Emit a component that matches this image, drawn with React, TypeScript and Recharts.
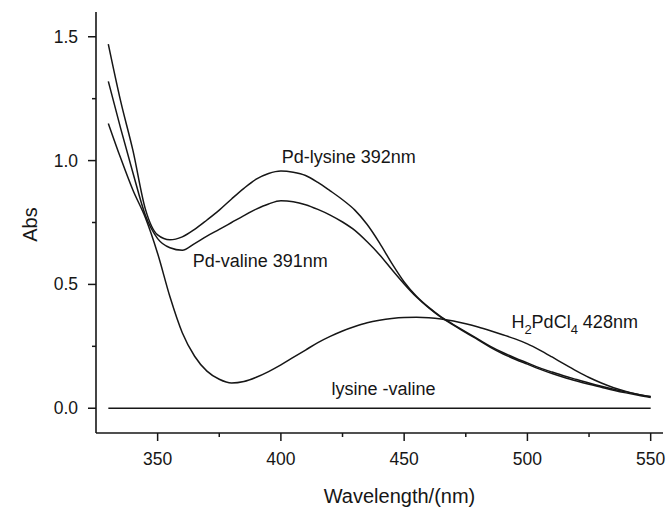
import { LineChart, Line, XAxis, YAxis, ReferenceDot } from 'recharts';

const wavelengths = [
  330, 335, 340, 345, 350, 355, 360, 365, 370, 375, 380, 385, 390, 395, 400,
  405, 410, 415, 420, 425, 430, 435, 440, 445, 450, 455, 460, 465, 470, 475,
  480, 485, 490, 495, 500, 505, 510, 515, 520, 525, 530, 535, 540, 545, 550,
];

const pdLysine = [
  1.47, 1.24, 1.04, 0.805, 0.7, 0.68, 0.692, 0.722, 0.76, 0.8, 0.845, 0.888, 0.925, 0.948, 0.958,
  0.953, 0.94, 0.912, 0.878, 0.842, 0.8, 0.742, 0.668, 0.585, 0.51, 0.452, 0.407, 0.369, 0.338, 0.308,
  0.279, 0.25, 0.225, 0.203, 0.183, 0.163, 0.146, 0.13, 0.116, 0.102, 0.089, 0.077, 0.066, 0.056, 0.047,
];

const pdValine = [
  1.32, 1.13, 0.95, 0.78, 0.685, 0.648, 0.638, 0.665, 0.695, 0.722, 0.75, 0.778, 0.804, 0.825, 0.838,
  0.834, 0.822, 0.803, 0.78, 0.752, 0.718, 0.672, 0.62, 0.56, 0.502, 0.449, 0.405, 0.367, 0.336, 0.305,
  0.276, 0.246, 0.22, 0.198, 0.178, 0.158, 0.14, 0.124, 0.11, 0.097, 0.085, 0.073, 0.062, 0.052, 0.043,
];

const h2pdcl4 = [
  1.15, 1.01, 0.88, 0.77, 0.625, 0.45, 0.305, 0.21, 0.15, 0.117, 0.102, 0.108, 0.125, 0.148, 0.175,
  0.205, 0.235, 0.265, 0.29, 0.312, 0.33, 0.345, 0.355, 0.362, 0.366, 0.367, 0.365, 0.36, 0.352, 0.341,
  0.328, 0.313, 0.297, 0.28, 0.26, 0.235, 0.207, 0.178, 0.15, 0.124, 0.102, 0.083, 0.068, 0.056, 0.046,
];

const lysineValine = [
  0, 0, 0, 0, 0, 0, 0, 0, 0, 0, 0, 0, 0, 0, 0,
  0, 0, 0, 0, 0, 0, 0, 0, 0, 0, 0, 0, 0, 0, 0,
  0, 0, 0, 0, 0, 0, 0, 0, 0, 0, 0, 0, 0, 0, 0,
];

const xTicks = [350, 375, 400, 425, 450, 475, 500, 525, 550];
const yTicks = [0, 0.25, 0.5, 0.75, 1.0, 1.25, 1.5];

const data = wavelengths.map((w, i) => ({
  w,
  lys: pdLysine[i],
  val: pdValine[i],
  h2: h2pdcl4[i],
  base: lysineValine[i],
}));

const INK = '#161616';
const FONT = '"Liberation Sans", Arial, sans-serif';

const XTick = ({ x, y, payload }: any) => {
  const major = payload.value % 50 === 0;
  return (
    <g>
      <line x1={x} x2={x} y1={y} y2={y + (major ? 8 : 4)} stroke={INK} strokeWidth={1.5} />
      {major && (
        <text x={x} y={y + 32} textAnchor="middle" fontSize={17.5} fontFamily={FONT} fill={INK}>
          {payload.value}
        </text>
      )}
    </g>
  );
};

const YTick = ({ x, y, payload }: any) => {
  const major = Math.abs(payload.value * 2 - Math.round(payload.value * 2)) < 1e-6;
  return (
    <g>
      <line x1={x} x2={x - (major ? 8 : 4)} y1={y} y2={y} stroke={INK} strokeWidth={1.5} />
      {major && (
        <text x={x - 18} y={y + 6} textAnchor="end" fontSize={17.5} fontFamily={FONT} fill={INK}>
          {payload.value.toFixed(1)}
        </text>
      )}
    </g>
  );
};

const CurveLabel = ({ viewBox, text }: any) => {
  const x = viewBox.x + (viewBox.width || 0) / 2;
  const y = viewBox.y + (viewBox.height || 0) / 2;
  return (
    <text x={x} y={y} fontSize={18} fontFamily={FONT} fill={INK}>
      {text}
    </text>
  );
};

const H2Label = ({ viewBox }: any) => {
  const x = viewBox.x + (viewBox.width || 0) / 2;
  const y = viewBox.y + (viewBox.height || 0) / 2;
  return (
    <text x={x} y={y} fontSize={18} fontFamily={FONT} fill={INK}>
      H<tspan fontSize={13} dy={6}>2</tspan>
      <tspan dy={-6}>PdCl</tspan>
      <tspan fontSize={13} dy={6}>4</tspan>
      <tspan dy={-6}> 428nm</tspan>
    </text>
  );
};

export default function App() {
  return (
    <div style={{ position: 'absolute', left: 0, top: 0, background: '#fff' }}>
      <LineChart width={668} height={507} data={data} margin={{ top: 12, right: 5, left: 36, bottom: 44 }}>
        <XAxis
          dataKey="w"
          type="number"
          domain={[325, 555]}
          ticks={xTicks}
          interval={0}
          allowDataOverflow
          height={30}
          tickSize={0}
          tickMargin={0}
          tickLine={false}
          axisLine={{ stroke: INK, strokeWidth: 1.6 }}
          tick={<XTick />}
          label={{
            value: 'Wavelength/(nm)',
            position: 'insideBottom',
            dx: 20,
            dy: 45,
            style: { fontSize: 20, fontFamily: FONT, fill: INK },
          }}
        />
        <YAxis
          type="number"
          domain={[-0.1, 1.6]}
          ticks={yTicks}
          interval={0}
          allowDataOverflow
          width={60}
          tickSize={0}
          tickMargin={0}
          tickLine={false}
          axisLine={{ stroke: INK, strokeWidth: 1.6 }}
          tick={<YTick />}
          label={{
            value: 'Abs',
            angle: -90,
            position: 'insideLeft',
            dx: -11,
            dy: 2,
            style: { fontSize: 20, fontFamily: FONT, fill: INK, textAnchor: 'middle' },
          }}
        />
        <Line type="monotone" dataKey="lys" stroke={INK} strokeWidth={1.5} dot={false} isAnimationActive={false} />
        <Line type="monotone" dataKey="val" stroke={INK} strokeWidth={1.5} dot={false} isAnimationActive={false} />
        <Line type="monotone" dataKey="h2" stroke={INK} strokeWidth={1.5} dot={false} isAnimationActive={false} />
        <Line type="monotone" dataKey="base" stroke={INK} strokeWidth={1.5} dot={false} isAnimationActive={false} />
        <ReferenceDot x={400.3} y={0.992} r={0} fill="none" stroke="none" label={<CurveLabel text="Pd-lysine 392nm" />} />
        <ReferenceDot x={364.2} y={0.57} r={0} fill="none" stroke="none" label={<CurveLabel text="Pd-valine 391nm" />} />
        <ReferenceDot x={420.5} y={0.052} r={0} fill="none" stroke="none" label={<CurveLabel text="lysine -valine" />} />
        <ReferenceDot x={493.5} y={0.323} r={0} fill="none" stroke="none" label={<H2Label />} />
      </LineChart>
    </div>
  );
}
